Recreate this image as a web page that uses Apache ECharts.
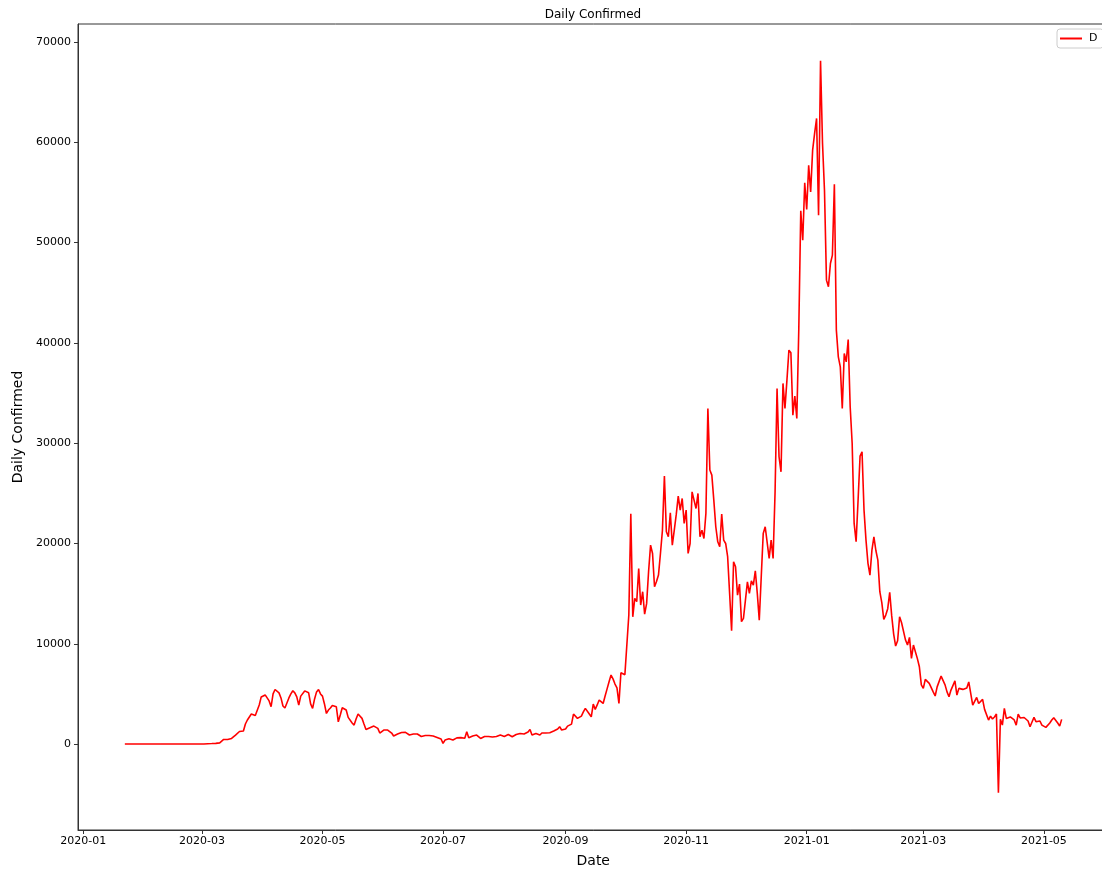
<!DOCTYPE html>
<html>
<head>
<meta charset="utf-8">
<title>Daily Confirmed</title>
<script src="https://cdn.jsdelivr.net/npm/echarts@6/dist/echarts.min.js"></script>
<style>
  html, body { margin: 0; padding: 0; background: #fff; overflow: hidden; }
  #chart { width: 1112px; height: 872px; }
</style>
</head>
<body>
<div id="chart"></div>
<script>
// Daily confirmed cases, one value per day starting 2020-01-22
const startDate = '2020-01-22';

const jan2020 = [0, 0, 0, 0, 0, 0, 0, 0, 0, 2];
const feb2020 = [0, 0, 0, 0, 0, 0, 1, 0, 0, 5, 0, 0, 1, 0, 0, 0, 0, 0, 0, 0, 0, 0, 0, 0, 4, 0, 0, 4, 7];
const mar2020 = [13, 4, 11, 34, 30, 48, 43, 67, 60, 120, 300, 460, 520, 450, 400, 560, 750, 900, 1060, 1250,
  1300, 1300, 2000, 2400, 2500, 3000, 3190, 2850, 3000, 3900, 4700];
const apr2020 = [4880, 4900, 4850, 4300, 3720, 5000, 5440, 5310, 5100, 4600, 3800, 3600, 4100, 4600, 5000,
  5310, 5100, 4700, 3880, 4780, 4710, 5300, 5480, 5110, 4000, 3550, 4500, 5200, 5440, 5000];
const may2020 = [4780, 4000, 3050, 3390, 3600, 3850, 3800, 3720, 2220, 2900, 3620, 3500, 3390, 2660, 2560,
  2100, 1890, 2500, 2990, 2800, 2560, 2000, 1460, 1550, 1630, 1700, 1790, 1700, 1560, 1100, 1060];
const jun2020 = [1400, 1500, 1400, 1230, 1100, 800, 730, 1000, 1160, 1150, 1100, 1160, 1000, 900, 950,
  1000, 1050, 1000, 950, 750, 660, 850, 930, 850, 800, 800, 700, 650, 630, 500];
const jul2020 = [70, 400, 560, 520, 470, 400, 550, 620, 660, 640, 660, 580, 1230, 630, 700, 800, 850, 900,
  750, 560, 700, 760, 800, 750, 720, 700, 660, 750, 850, 900, 850];
const aug2020 = [760, 800, 950, 1000, 730, 800, 950, 1000, 1060, 900, 1000, 1130, 1200, 1460, 900, 1000,
  1060, 950, 900, 1100, 1230, 1100, 1050, 1130, 1200, 1300, 1350, 1500, 1730, 1400, 1330];
const sep2020 = [1500, 1790, 1900, 1990, 2990, 2900, 2560, 2700, 2790, 3200, 3560, 3460, 3000, 2720, 3990,
  3460, 3900, 4390, 4300, 4050, 4790, 5500, 6210, 6880, 6500, 5980, 5600, 4050, 7110, 7100];
const oct2020 = [6910, 6970, 12870, 22960, 12690, 14520, 14200, 17510, 13860, 15190, 12960, 14000, 17200,
  19840, 19000, 15680, 16200, 16850, 19000, 21300, 26720, 21170, 20670, 23060, 19840, 21330, 22900, 24720,
  23330, 24490, 22000];
const nov2020 = [23330, 19010, 20000, 25150, 24320, 23490, 24990, 20670, 21330, 20500, 23000, 33460, 27320,
  26820, 24320, 21670, 20170, 19670, 22930, 20340, 20000, 18680, 15020, 11300, 18180, 17680, 14850, 15950,
  12200, 12530];
const dec2020 = [14360, 16180, 15020, 16280, 15850, 17280, 15020, 12360, 16680, 21000, 21670, 21570, 18510,
  20340, 18510, 25160, 35460, 28650, 27150, 35960, 33460, 36290, 39280, 39010, 32800, 34690, 32460, 41400,
  53170, 50240, 55960];
const jan2021 = [53300, 57720, 55060, 59220, 60900, 62380, 52740, 68130, 59900, 55200, 46260, 45600, 47920,
  48760, 55830, 41280, 38610, 37610, 33470, 38940, 38110, 40340, 33630, 30000, 22000, 20170, 24330, 28710,
  29140, 23330, 20340];
const feb2021 = [18020, 16850, 19340, 20670, 19300, 18340, 15190, 14100, 12430, 12860, 13500, 15120, 12800,
  10970, 9770, 10300, 12690, 12100, 12030, 10370, 9870, 10640, 8540, 9870, 9970, 8520, 7710, 5900];
const mar2021 = [5550, 6450, 6550, 6050, 6000, 5200, 4790, 5700, 5880, 6780, 6600, 5900, 5200, 4720, 5380,
  5500, 6300, 4890, 5550, 5400, 5450, 5400, 5600, 6200, 6250, 3890, 3900, 4650, 4050, 4100, 4450];
const apr2021 = [3460, 3500, 2390, 2790, 2500, 2700, 3000, -4850, 2460, 1890, 3560, 2560, 2600, 2700, 2730,
  2400, 1890, 2990, 2600, 2460, 2650, 2600, 2300, 1730, 2200, 2660, 2230, 2400, 2300, 1890];
const may2021 = [1800, 1660, 1800, 2100, 2400, 2630, 2500, 2100, 1790, 2460];

// Tick labels
const xTickLabels = ['2020-01', '2020-03', '2020-05', '2020-07', '2020-09', '2020-11', '2021-01', '2021-03', '2021-05'];
const yTickValues = [0, 10000, 20000, 30000, 40000, 50000, 60000, 70000];

const seriesName = 'D';

const DAY = 86400000;
const dailyValues = [].concat(jan2020, feb2020, mar2020, apr2020, may2020, jun2020, jul2020, aug2020,
  sep2020, oct2020, nov2020, dec2020, jan2021, feb2021, mar2021, apr2021, may2021);

function parseUTC(s) {
  const p = s.split('-').map(Number);
  return Date.UTC(p[0], p[1] - 1, p[2] || 1);
}

const t0 = parseUTC(startDate);
const lineData = dailyValues.map((v, i) => [t0 + i * DAY, v]);
const xTicks = xTickLabels.map(parseUTC);

// Axis range with a 5% pad around the data span
const span = (dailyValues.length - 1) * DAY;
const xMin = t0 - span * 0.05;
const xMax = t0 + span * 1.05;

const chart = echarts.init(document.getElementById('chart'), null, { renderer: 'canvas' });

const font = 'DejaVu Sans';
const ink = '#000';
const spine = '#333';

chart.setOption({
  animation: false,
  backgroundColor: '#fff',
  textStyle: { fontFamily: font },
  title: {
    text: 'Daily Confirmed',
    left: 593,
    top: 9,
    textAlign: 'center',
    padding: 0,
    textStyle: { fontFamily: font, fontSize: 12, fontWeight: 'normal', color: ink }
  },
  legend: {
    data: [seriesName],
    left: 1057,
    top: 29,
    orient: 'vertical',
    padding: [4, 6, 4, 3],
    itemWidth: 22,
    itemHeight: 2,
    icon: 'rect',
    backgroundColor: 'rgba(255,255,255,0.8)',
    borderColor: '#cccccc',
    borderWidth: 1,
    borderRadius: 3,
    textStyle: { fontFamily: font, fontSize: 11, color: ink, padding: [0, 0, 0, 2] }
  },
  grid: {
    left: 78,
    top: 24,
    width: 1030.5,
    height: 806,
    show: true,
    borderColor: spine,
    borderWidth: 1,
    backgroundColor: 'transparent',
    containLabel: false,
    outerBoundsMode: 'none'
  },
  xAxis: {
    type: 'value',
    min: xMin,
    max: xMax,
    scale: true,
    name: 'Date',
    nameLocation: 'middle',
    nameGap: 24,
    nameTextStyle: { fontFamily: font, fontSize: 14, color: ink },
    axisLine: { show: true, onZero: false, lineStyle: { color: spine, width: 1 } },
    axisTick: { show: true, length: 4, lineStyle: { color: spine }, customValues: xTicks },
    axisLabel: {
      customValues: xTicks,
      showMinLabel: true,
      showMaxLabel: true,
      margin: 6,
      fontFamily: font,
      fontSize: 11,
      color: ink,
      formatter: function (v) {
        const d = new Date(v);
        const m = d.getUTCMonth() + 1;
        return d.getUTCFullYear() + '-' + (m < 10 ? '0' + m : m);
      }
    },
    splitLine: { show: false }
  },
  yAxis: {
    type: 'value',
    min: -8570,
    max: 71800,
    name: 'Daily Confirmed',
    nameLocation: 'middle',
    nameGap: 42,
    nameTextStyle: { fontFamily: font, fontSize: 14, color: ink },
    axisLine: { show: true, onZero: false, lineStyle: { color: spine, width: 1 } },
    axisTick: { show: true, length: 4, lineStyle: { color: spine }, customValues: yTickValues },
    axisLabel: {
      customValues: yTickValues,
      margin: 7,
      fontFamily: font,
      fontSize: 11,
      color: ink,
      formatter: function (v) { return String(v); }
    },
    splitLine: { show: false }
  },
  series: [{
    name: seriesName,
    type: 'line',
    data: lineData,
    showSymbol: false,
    symbol: 'none',
    lineStyle: { color: '#ff0000', width: 1.6 },
    itemStyle: { color: '#ff0000' },
    emphasis: { disabled: true }
  }]
});
</script>
</body>
</html>
